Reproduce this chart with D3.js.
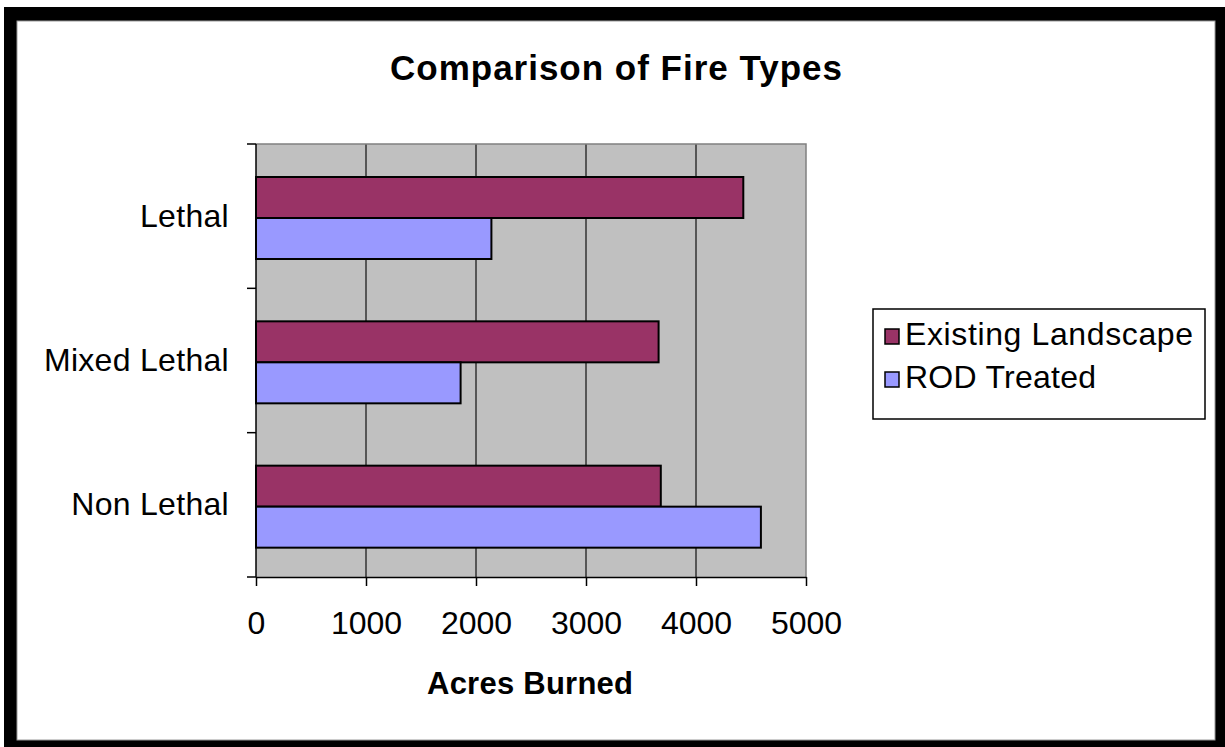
<!DOCTYPE html>
<html>
<head>
<meta charset="utf-8">
<script src="https://cdn.jsdelivr.net/npm/d3@7"></script>
<style>
  body { margin: 0; background: #fff; }
  svg { display: block; font-family: Arial, "Liberation Sans", sans-serif; }
</style>
</head>
<body>
<svg id="chart" width="1225" height="747"></svg>
<script>
const categories = ['Lethal', 'Mixed Lethal', 'Non Lethal']
const seriesNames = ['Existing Landscape', 'ROD Treated']
const existingValues = [4430, 3660, 3680]
const rodValues = [2140, 1860, 4590]
const xTicks = [0, 1000, 2000, 3000, 4000, 5000]
const colors = ['#993366', '#9999FF']

const $svg = d3.select('#chart')

const PLOT = { left: 256, top: 144, right: 806, bottom: 577 }
const plotW = PLOT.right - PLOT.left
const plotH = PLOT.bottom - PLOT.top

// outer black frame + white page
$svg.append('rect').attr('x', 4).attr('y', 7).attr('width', 1221).attr('height', 740).attr('fill', '#000')
$svg.append('rect').attr('x', 17).attr('y', 21).attr('width', 1198).attr('height', 719)
    .attr('fill', '#fff').attr('stroke', '#999').attr('stroke-width', 1)

// title
$svg.append('text')
    .attr('x', 616).attr('y', 80)
    .attr('text-anchor', 'middle')
    .attr('font-size', 35).attr('font-weight', 'bold')
    .attr('textLength', 452).attr('lengthAdjust', 'spacing')
    .text('Comparison of Fire Types')

const x = d3.scaleLinear().domain([0, 5000]).range([0, plotW])
const y0 = d3.scaleBand().domain(categories).range([0, plotH]).padding(0)
const y1 = d3.scaleBand().domain(seriesNames).range([33, 115])

const $g = $svg.append('g').attr('transform', `translate(${PLOT.left},${PLOT.top})`)

$g.append('rect').attr('width', plotW).attr('height', plotH).attr('fill', '#C0C0C0')

// gridlines
$g.selectAll('.grid')
    .data(xTicks.slice(1, -1))
    .enter().append('line')
    .attr('x1', d => x(d)).attr('x2', d => x(d))
    .attr('y1', 0).attr('y2', plotH)
    .attr('stroke', '#333').attr('stroke-width', 1.5)

// plot border (top, right)
$g.append('path')
    .attr('d', `M0,0H${plotW}V${plotH}`)
    .attr('fill', 'none').attr('stroke', '#808080').attr('stroke-width', 1.5)

const rows = categories.map((c, i) => ({ cat: c, vals: [existingValues[i], rodValues[i]] }))

const $groups = $g.selectAll('.cat')
    .data(rows)
    .enter().append('g')
    .attr('transform', d => `translate(0,${y0(d.cat)})`)

$groups.selectAll('rect')
    .data(d => d.vals.map((v, j) => ({ s: seriesNames[j], v, j })))
    .enter().append('rect')
    .attr('x', 0)
    .attr('y', d => y1(d.s))
    .attr('width', d => x(d.v))
    .attr('height', y1.bandwidth())
    .attr('fill', d => colors[d.j])
    .attr('stroke', '#000').attr('stroke-width', 2)

// x axis
const xAxis = $g.append('g')
    .attr('transform', `translate(0,${plotH})`)
    .call(d3.axisBottom(x).tickValues(xTicks).tickFormat(d3.format('d')).tickSize(9).tickSizeOuter(0))
xAxis.select('.domain').attr('stroke', '#000').attr('stroke-width', 1.5)
xAxis.selectAll('.tick line').attr('stroke', '#000').attr('stroke-width', 1.5)
xAxis.selectAll('.tick text')
    .attr('y', 57).attr('dy', 0)
    .attr('font-size', 32).attr('fill', '#000')
    .attr('font-family', 'Arial, "Liberation Sans", sans-serif')

// y axis (category boundaries as ticks)
const yBounds = [0, ...categories.map(c => y0(c) + y0.bandwidth())]
$g.append('line').attr('x1', 0).attr('x2', 0).attr('y1', 0).attr('y2', plotH)
    .attr('stroke', '#000').attr('stroke-width', 1.5)
$g.selectAll('.ytick')
    .data(yBounds)
    .enter().append('line')
    .attr('x1', -9).attr('x2', 0)
    .attr('y1', d => d).attr('y2', d => d)
    .attr('stroke', '#000').attr('stroke-width', 1.5)

$g.selectAll('.ylabel')
    .data(categories)
    .enter().append('text')
    .attr('x', -27)
    .attr('y', d => y0(d) + y0.bandwidth() / 2)
    .attr('dy', '0.33em')
    .attr('text-anchor', 'end')
    .attr('font-size', 32)
    .attr('letter-spacing', 0.3)
    .text(d => d)

// axis title
$svg.append('text')
    .attr('x', 530).attr('y', 694)
    .attr('text-anchor', 'middle')
    .attr('font-size', 31).attr('font-weight', 'bold')
    .attr('textLength', 206).attr('lengthAdjust', 'spacing')
    .text('Acres Burned')

// legend
const $legend = $svg.append('g')
$legend.append('rect')
    .attr('x', 873).attr('y', 309).attr('width', 332).attr('height', 110)
    .attr('fill', '#fff').attr('stroke', '#000').attr('stroke-width', 1.5)

const legendRows = [
    { name: seriesNames[0], color: colors[0], y: 329, len: 288 },
    { name: seriesNames[1], color: colors[1], y: 372, len: 191 }
]
const $items = $legend.selectAll('.item')
    .data(legendRows)
    .enter().append('g')
$items.append('rect')
    .attr('x', 885).attr('y', d => d.y)
    .attr('width', 14).attr('height', 15)
    .attr('fill', d => d.color).attr('stroke', '#000').attr('stroke-width', 1.5)
$items.append('text')
    .attr('x', 905).attr('y', d => d.y + 16)
    .attr('font-size', 32)
    .attr('textLength', d => d.len).attr('lengthAdjust', 'spacing')
    .text(d => d.name)
</script>
</body>
</html>
